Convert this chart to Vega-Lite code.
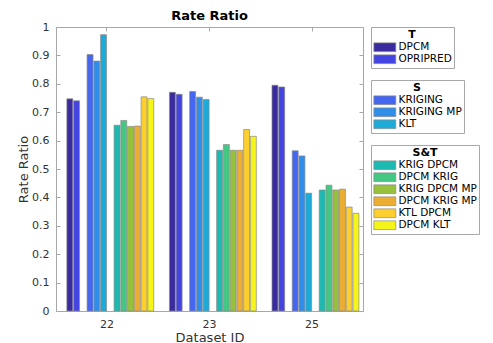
{
  "$schema": "https://vega.github.io/schema/vega-lite/v6.json",
  "width": 307,
  "height": 284,
  "autosize": "none",
  "padding": {"left": 56, "top": 27, "right": 130, "bottom": 32},
  "background": "white",
  "title": {"text": "Rate Ratio", "fontSize": 13, "font": "DejaVu Sans", "fontWeight": "bold", "color": "#000000", "offset": -2, "anchor": "middle"},
  "data": {
    "values": [
      {"dataset": "22", "method": "DPCM", "type": "T", "value": 0.747},
      {"dataset": "22", "method": "OPRIPRED", "type": "T", "value": 0.740},
      {"dataset": "22", "method": "KRIGING", "type": "S", "value": 0.903},
      {"dataset": "22", "method": "KRIGING MP", "type": "S", "value": 0.880},
      {"dataset": "22", "method": "KLT", "type": "S", "value": 0.973},
      {"dataset": "22", "method": "KRIG DPCM", "type": "S&T", "value": 0.654},
      {"dataset": "22", "method": "DPCM KRIG", "type": "S&T", "value": 0.671},
      {"dataset": "22", "method": "KRIG DPCM MP", "type": "S&T", "value": 0.650},
      {"dataset": "22", "method": "DPCM KRIG MP", "type": "S&T", "value": 0.651},
      {"dataset": "22", "method": "KTL DPCM", "type": "S&T", "value": 0.754},
      {"dataset": "22", "method": "DPCM KLT", "type": "S&T", "value": 0.748},
      {"dataset": "23", "method": "DPCM", "type": "T", "value": 0.770},
      {"dataset": "23", "method": "OPRIPRED", "type": "T", "value": 0.763},
      {"dataset": "23", "method": "KRIGING", "type": "S", "value": 0.773},
      {"dataset": "23", "method": "KRIGING MP", "type": "S", "value": 0.753},
      {"dataset": "23", "method": "KLT", "type": "S", "value": 0.745},
      {"dataset": "23", "method": "KRIG DPCM", "type": "S&T", "value": 0.566},
      {"dataset": "23", "method": "DPCM KRIG", "type": "S&T", "value": 0.586},
      {"dataset": "23", "method": "KRIG DPCM MP", "type": "S&T", "value": 0.566},
      {"dataset": "23", "method": "DPCM KRIG MP", "type": "S&T", "value": 0.566},
      {"dataset": "23", "method": "KTL DPCM", "type": "S&T", "value": 0.639},
      {"dataset": "23", "method": "DPCM KLT", "type": "S&T", "value": 0.615},
      {"dataset": "25", "method": "DPCM", "type": "T", "value": 0.795},
      {"dataset": "25", "method": "OPRIPRED", "type": "T", "value": 0.789},
      {"dataset": "25", "method": "KRIGING", "type": "S", "value": 0.564},
      {"dataset": "25", "method": "KRIGING MP", "type": "S", "value": 0.546},
      {"dataset": "25", "method": "KLT", "type": "S", "value": 0.415},
      {"dataset": "25", "method": "KRIG DPCM", "type": "S&T", "value": 0.426},
      {"dataset": "25", "method": "DPCM KRIG", "type": "S&T", "value": 0.443},
      {"dataset": "25", "method": "KRIG DPCM MP", "type": "S&T", "value": 0.426},
      {"dataset": "25", "method": "DPCM KRIG MP", "type": "S&T", "value": 0.429},
      {"dataset": "25", "method": "KTL DPCM", "type": "S&T", "value": 0.366},
      {"dataset": "25", "method": "DPCM KLT", "type": "S&T", "value": 0.344}
    ]
  },
  "layer": [
    {
      "transform": [{"filter": "datum.type === 'T'"}],
      "mark": {"type": "bar", "stroke": "#8a8a8a", "strokeWidth": 0.7},
      "encoding": {
        "x": {"field": "dataset", "type": "nominal", "sort": ["22", "23", "25"],
          "scale": {"paddingInner": 0.087, "paddingOuter": 0.04},
          "axis": {"title": "Dataset ID", "labelAngle": 0, "ticks": false, "labelPadding": 7, "titlePadding": 2}},
        "xOffset": {"field": "method", "type": "nominal",
          "scale": {"domain": ["_a", "DPCM", "OPRIPRED", "_b", "KRIGING", "KRIGING MP", "KLT", "_c", "KRIG DPCM", "DPCM KRIG", "KRIG DPCM MP", "DPCM KRIG MP", "KTL DPCM", "DPCM KLT"], "paddingInner": 0.12, "paddingOuter": 0}},
        "y": {"field": "value", "type": "quantitative", "scale": {"domain": [0, 1], "nice": false},
          "axis": {"title": "Rate Ratio", "values": [0, 0.1, 0.2, 0.3, 0.4, 0.5, 0.6, 0.7, 0.8, 0.9, 1], "format": "~g", "tickSize": -4, "labelPadding": 11, "titlePadding": 1}},
        "color": {"field": "method", "type": "nominal", "title": "T",
          "scale": {"domain": ["DPCM", "OPRIPRED"], "range": ["#3a2c9e", "#4444e0"]}}
      }
    },
    {
      "transform": [{"filter": "datum.type === 'S'"}],
      "mark": {"type": "bar", "stroke": "#8a8a8a", "strokeWidth": 0.7},
      "encoding": {
        "x": {"field": "dataset", "type": "nominal", "sort": ["22", "23", "25"],
          "axis": {"orient": "top", "title": null, "labels": false, "ticks": true, "tickSize": -4}},
        "xOffset": {"field": "method", "type": "nominal"},
        "y": {"field": "value", "type": "quantitative",
          "axis": {"orient": "right", "title": null, "labels": false, "values": [0, 0.1, 0.2, 0.3, 0.4, 0.5, 0.6, 0.7, 0.8, 0.9, 1], "tickSize": -4}},
        "color": {"field": "method", "type": "nominal", "title": "S",
          "scale": {"domain": ["KRIGING", "KRIGING MP", "KLT"], "range": ["#4466f0", "#2f8eea", "#1cabd8"]}}
      }
    },
    {
      "transform": [{"filter": "datum.type === 'S&T'"}],
      "mark": {"type": "bar", "stroke": "#8a8a8a", "strokeWidth": 0.7},
      "encoding": {
        "x": {"field": "dataset", "type": "nominal", "sort": ["22", "23", "25"], "axis": null},
        "xOffset": {"field": "method", "type": "nominal"},
        "y": {"field": "value", "type": "quantitative", "axis": null},
        "color": {"field": "method", "type": "nominal", "title": "S&T",
          "scale": {"domain": ["KRIG DPCM", "DPCM KRIG", "KRIG DPCM MP", "DPCM KRIG MP", "KTL DPCM", "DPCM KLT"], "range": ["#1cbab0", "#45c784", "#97c03c", "#ecae32", "#fccf2e", "#f5f51a"]}}
      }
    }
  ],
  "resolve": {"scale": {"color": "independent"}, "axis": {"x": "independent", "y": "independent"}},
  "config": {
    "font": "DejaVu Sans",
    "view": {"stroke": "#a8a8a8", "strokeWidth": 1},
    "axis": {
      "domain": false,
      "grid": false,
      "labelFont": "DejaVu Sans",
      "labelFontSize": 11,
      "labelColor": "#333333",
      "titleFont": "DejaVu Sans",
      "titleFontSize": 13,
      "titleFontWeight": "normal",
      "titleColor": "#333333",
      "tickColor": "#a8a8a8",
      "tickWidth": 1
    },
    "legend": {
      "orient": "right",
      "offset": 7,
      "strokeColor": "#a8a8a8",
      "padding": 2,
      "labelFont": "DejaVu Sans",
      "labelFontSize": 10.5,
      "labelColor": "#000000",
      "labelOffset": 15,
      "titleFont": "DejaVu Sans",
      "titleFontSize": 11,
      "titleFontWeight": "bold",
      "titleColor": "#000000",
      "titleAnchor": "middle",
      "titlePadding": 2,
      "rowPadding": -2,
      "symbolType": "M-1,-1H4V1H-1Z",
      "symbolSize": 77,
      "symbolStrokeColor": "#8a8a8a",
      "symbolStrokeWidth": 0.7,
      "symbolOpacity": 1,
      "layout": {"right": {"anchor": "start", "direction": "vertical", "margin": 12}}
    }
  }
}
